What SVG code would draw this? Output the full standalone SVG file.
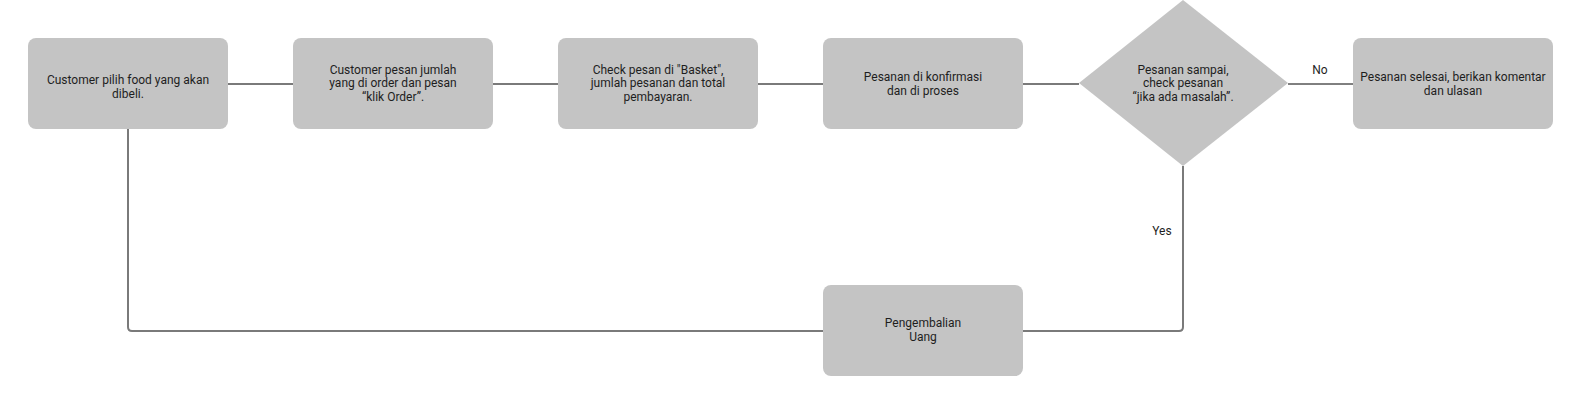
<svg xmlns="http://www.w3.org/2000/svg" width="1586" height="408" viewBox="0 0 1586 408">
<style>
.n{fill:#c4c4c4}
.t{font-family:Roboto,"Liberation Sans",sans-serif;font-size:12px;fill:#1e1e1e;text-anchor:middle}
.c{fill:none;stroke:#7a7a7a;stroke-width:2}
.k{fill:none;stroke:#000;stroke-width:1}
</style>
<rect width="1586" height="408" fill="#fff"/>
<g id="connectors">
<line class="c" x1="228" y1="84" x2="293" y2="84"/>
<line class="c" x1="493" y1="84" x2="558" y2="84"/>
<line class="c" x1="758" y1="84" x2="823" y2="84"/>
<line class="c" x1="1023" y1="84" x2="1079" y2="84"/>
<line class="k" x1="1288" y1="84" x2="1353" y2="84"/>
<path class="c" d="M128 129 V327 Q128 331 132 331 H823"/>
<path class="c" d="M1023 331 H1179 Q1183 331 1183 327 V166"/>
<text class="t" x="1320" y="74">No</text>
<text class="t" x="1162" y="235">Yes</text>
</g>
<g id="n1">
<rect class="n" x="28" y="38" width="200" height="91" rx="8"/>
<text class="t" x="128" y="84">Customer pilih food yang akan</text>
<text class="t" x="128" y="98">dibeli.</text>
</g>
<g id="n2">
<rect class="n" x="293" y="38" width="200" height="91" rx="8"/>
<text class="t" x="393" y="74">Customer pesan jumlah</text>
<text class="t" x="393" y="87">yang di order dan pesan</text>
<text class="t" x="393" y="101">“klik Order”.</text>
</g>
<g id="n3">
<rect class="n" x="558" y="38" width="200" height="91" rx="8"/>
<text class="t" x="658" y="74">Check pesan di "Basket",</text>
<text class="t" x="658" y="87">jumlah pesanan dan total</text>
<text class="t" x="658" y="101">pembayaran.</text>
</g>
<g id="n4">
<rect class="n" x="823" y="38" width="200" height="91" rx="8"/>
<text class="t" x="923" y="81">Pesanan di konfirmasi</text>
<text class="t" x="923" y="95">dan di proses</text>
</g>
<g id="n5">
<polygon class="n" points="1183,0 1288,83 1183,166 1079,83"/>
<text class="t" x="1183" y="74">Pesanan sampai,</text>
<text class="t" x="1183" y="87">check pesanan</text>
<text class="t" x="1183" y="101">“jika ada masalah”.</text>
</g>
<g id="n6">
<rect class="n" x="1353" y="38" width="200" height="91" rx="8"/>
<text class="t" x="1453" y="81">Pesanan selesai, berikan komentar</text>
<text class="t" x="1453" y="95">dan ulasan</text>
</g>
<g id="n7">
<rect class="n" x="823" y="285" width="200" height="91" rx="8"/>
<text class="t" x="923" y="327">Pengembalian</text>
<text class="t" x="923" y="341">Uang</text>
</g>
</svg>
